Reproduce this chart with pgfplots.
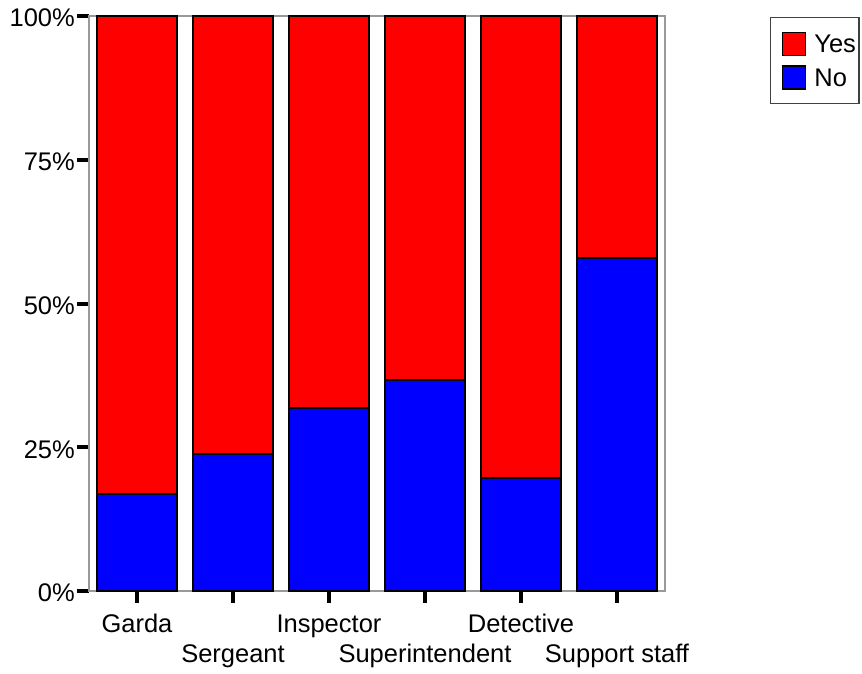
\documentclass[border=0pt]{standalone}
\usepackage{pgfplots}
\pgfplotsset{compat=1.18}
\usepackage{fontspec}
\setmainfont{Liberation Sans}
\definecolor{yesred}{RGB}{255,0,0}
\definecolor{noblue}{RGB}{0,0,255}
\newcommand{\lblfont}{\fontsize{25.5}{30}\selectfont}
\begin{document}
\lblfont
\begin{tikzpicture}
\useasboundingbox (0pt,0pt) rectangle (862pt,673pt);
\begin{axis}[
  at={(89pt,82pt)}, anchor=south west,
  scale only axis,
  width=576pt, height=575pt,
  ybar stacked,
  bar width=80pt,
  xmin=-0.5, xmax=5.5,
  ymin=0, ymax=100,
  xtick={0,1,2,3,4,5},
  xticklabels={{\strut Garda},{\strut\\Sergeant},{\strut Inspector},{\strut\\Superintendent},{\strut Detective},{\strut\\Support staff}},
  xticklabel style={align=center, font=\lblfont},
  ytick={0,25,50,75,100},
  yticklabels={0\%,25\%,50\%,75\%,100\%},
  yticklabel style={font=\lblfont, inner sep=2pt, yshift=-2pt},
  /pgf/number format/assume math mode=true,
  tick align=outside,
  major tick length=12pt,
  every tick/.style={black, line width=4pt},
  xtick pos=bottom, ytick pos=left,
  axis line style={gray!80, line width=1.2pt},
  every axis plot/.append style={draw=black, line width=2pt},
  reverse legend,
  legend style={at={(1.1823,0.9983)}, anchor=north west,
    draw=black!75, line width=1.2pt,
    font=\lblfont,
    inner xsep=3pt, inner ysep=14pt, row sep=9pt, column sep=8pt,
    nodes={inner sep=0pt, text depth=0pt},
    cells={anchor=west}},
  legend image code/.code={\path (0pt,0pt);\draw[#1, line width=1.5pt] (8pt,-11.5pt) rectangle (31pt,11.5pt);},
]
\addplot[fill=noblue] coordinates {(0,16.9) (1,23.8) (2,31.8) (3,36.7) (4,19.7) (5,57.9)};
\addplot[fill=yesred] coordinates {(0,83.1) (1,76.2) (2,68.2) (3,63.3) (4,80.3) (5,42.1)};
\legend{No,Yes}
\end{axis}
\end{tikzpicture}
\end{document}
